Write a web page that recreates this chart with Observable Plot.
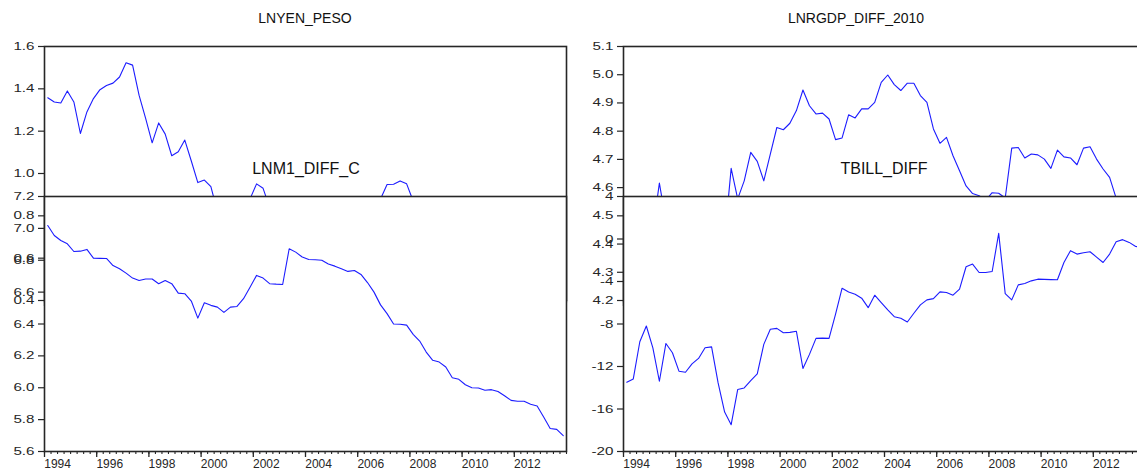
<!DOCTYPE html>
<html><head><meta charset="utf-8">
<script src="https://cdn.jsdelivr.net/npm/d3@7"></script>
<script src="https://cdn.jsdelivr.net/npm/@observablehq/plot@0.6"></script>
<style>
html,body{margin:0;padding:0;background:#fff;}
#wrap{position:relative;width:1137px;height:468px;overflow:hidden;background:#fff;font-family:"Liberation Sans",Arial,sans-serif;}
.panel{position:absolute;top:0;}
.title{position:absolute;white-space:nowrap;transform:translateX(-50%);line-height:1;color:#111;}
</style></head><body>
<div id="wrap"></div>
<script>
// quarterly data, 1994Q1 .. 2013Q4
const startYear = 1994;
const endYear = 2014;
const yearLabels = [1994, 1996, 1998, 2000, 2002, 2004, 2006, 2008, 2010, 2012];

const lnyenPeso = [
  1.358, 1.338, 1.333, 1.390, 1.338, 1.189, 1.291, 1.354, 1.396, 1.416, 1.427, 1.456, 1.523, 1.512, 1.369, 1.260,
  1.145, 1.239, 1.186, 1.084, 1.103, 1.158, 1.059, 0.957, 0.969, 0.938, 0.82, 0.84, 0.83, 0.85, 0.86, 0.88,
  0.951, 0.930, 0.84, 0.82, 0.80, 0.78, 0.80, 0.82, 0.81, 0.79, 0.80, 0.82, 0.83, 0.82, 0.84, 0.85,
  0.83, 0.84, 0.86, 0.88, 0.948, 0.949, 0.965, 0.951, 0.87, 0.83, 0.80, 0.72, 0.66, 0.64, 0.62, 0.65,
  0.63, 0.60, 0.58, 0.57, 0.55, 0.54, 0.53, 0.52, 0.53, 0.55, 0.58, 0.62, 0.68, 0.72, 0.74, 0.75
];
const lnrgdpDiff2010 = [
  4.50, 4.52, 4.49, 4.51, 4.45, 4.616, 4.48, 4.46, 4.43, 4.45, 4.48, 4.50, 4.52, 4.54, 4.45, 4.42,
  4.668, 4.56, 4.624, 4.725, 4.693, 4.624, 4.719, 4.813, 4.805, 4.828, 4.873, 4.946, 4.890, 4.861, 4.864, 4.843,
  4.770, 4.776, 4.858, 4.847, 4.879, 4.879, 4.902, 4.973, 4.999, 4.965, 4.944, 4.970, 4.970, 4.926, 4.902, 4.808,
  4.757, 4.778, 4.713, 4.660, 4.606, 4.579, 4.571, 4.555, 4.582, 4.580, 4.563, 4.740, 4.742, 4.705, 4.719, 4.716,
  4.701, 4.668, 4.733, 4.709, 4.705, 4.681, 4.740, 4.745, 4.701, 4.666, 4.636, 4.563, 4.52, 4.50, 4.49, 4.47
];
const lnm1DiffC = [
  7.018, 6.955, 6.924, 6.903, 6.855, 6.857, 6.868, 6.813, 6.812, 6.811, 6.767, 6.747, 6.719, 6.688, 6.673, 6.682,
  6.682, 6.653, 6.673, 6.653, 6.594, 6.590, 6.544, 6.437, 6.533, 6.517, 6.506, 6.473, 6.506, 6.510, 6.559, 6.631,
  6.705, 6.688, 6.653, 6.650, 6.648, 6.872, 6.851, 6.820, 6.805, 6.803, 6.800, 6.776, 6.763, 6.747, 6.730, 6.736,
  6.711, 6.660, 6.600, 6.520, 6.465, 6.400, 6.398, 6.393, 6.335, 6.293, 6.224, 6.172, 6.161, 6.130, 6.063, 6.053,
  6.019, 6.000, 5.998, 5.984, 5.988, 5.977, 5.950, 5.921, 5.915, 5.915, 5.896, 5.886, 5.816, 5.744, 5.739, 5.700
];
const tbillDiff = [
  -13.48, -13.17, -9.67, -8.19, -10.24, -13.39, -9.83, -10.71, -12.44, -12.54, -11.75, -11.24, -10.24, -10.15, -13.55, -16.29,
  -17.48, -14.17, -14.02, -13.32, -12.70, -9.92, -8.50, -8.41, -8.82, -8.79, -8.69, -12.19, -10.86, -9.35, -9.33, -9.35,
  -7.08, -4.63, -4.98, -5.20, -5.57, -6.46, -5.29, -5.98, -6.68, -7.31, -7.46, -7.81, -6.99, -6.20, -5.73, -5.61,
  -4.98, -5.04, -5.29, -4.72, -2.61, -2.36, -3.15, -3.15, -3.06, 0.53, -5.14, -5.73, -4.32, -4.19, -3.94, -3.78,
  -3.80, -3.82, -3.84, -2.21, -1.10, -1.42, -1.30, -1.20, -1.70, -2.21, -1.42, -0.25, -0.06, -0.32, -0.70, -0.80
];

const yTicksYen = [1.6, 1.4, 1.2, 1.0, 0.8, 0.6, 0.4];
const yTicksGdp = [5.1, 5.0, 4.9, 4.8, 4.7, 4.6, 4.5, 4.4, 4.3, 4.2];
const yTicksM1 = [7.2, 7.0, 6.8, 6.6, 6.4, 6.2, 6.0, 5.8, 5.6];
const yTicksTbill = [4, 0, -4, -8, -12, -16, -20];

const quarterTicks = d3.range(startYear, endYear + 0.001, 0.25);
const f1 = d3.format(".1f");

const LINE = "#1c1cff";
const INK = "#262626";
const wrap = document.getElementById("wrap");

function panel(o) {
  const plotW = 522;
  const data = o.values.map((v, i) => ({t: startYear + (i + 0.5) / 4, v}));
  const svg = Plot.plot({
    width: o.width,
    height: o.height,
    marginLeft: o.marginLeft,
    marginRight: o.width - o.marginLeft - plotW,
    marginTop: o.marginTop,
    marginBottom: o.height - o.marginTop - o.plotH,
    style: {background: "transparent", fontFamily: "'Liberation Sans', Arial, sans-serif", fontSize: "12px", color: INK, overflow: "visible"},
    x: {domain: [startYear, endYear], label: null},
    y: {domain: o.yDomain, label: null},
    marks: [
      Plot.frame({fill: o.cover ? "white" : "none", stroke: "none"}),
      Plot.axisY({ticks: o.yTicks, tickSize: 6, tickPadding: 4, tickFormat: o.yFormat, label: null, strokeWidth: 1.2, fontSize: 11}),
      Plot.axisX({ticks: quarterTicks, tickSize: 3, tickFormat: () => "", label: null, strokeWidth: 1.1}),
      Plot.axisX({ticks: yearLabels, tickSize: 6, tickFormat: () => "", label: null, strokeWidth: 1.3}),
      Plot.axisX({ticks: yearLabels.map(y => y + 0.5), tickSize: 0, tickPadding: 8, tickFormat: d => String(Math.floor(d)), label: null}),
      Plot.lineY(data, {x: "t", y: "v", stroke: LINE, strokeWidth: 1.1}),
      Plot.frame({stroke: INK, strokeWidth: 1.6})
    ]
  });
  // EViews draws the vertical-axis numbers horizontally widened
  svg.querySelectorAll('g[aria-label="y-axis tick label"] text').forEach(t => {
    t.setAttribute("transform", (t.getAttribute("transform") || "") + " scale(1.38,1)");
  });
  svg.classList.add("panel");
  svg.style.left = o.left + "px";
  svg.style.position = "absolute";
  svg.style.top = "0px";
  wrap.appendChild(svg);
}

function title(text, cx, top, size) {
  const d = document.createElement("div");
  d.className = "title";
  d.textContent = text;
  d.style.left = cx + "px";
  d.style.top = top + "px";
  d.style.fontSize = size + "px";
  wrap.appendChild(d);
}

// top panels
panel({values: lnyenPeso, left: 0, width: 570, marginLeft: 44, marginTop: 46, plotH: 254, height: 330,
  yDomain: [0.4, 1.6], yTicks: yTicksYen, yFormat: f1, cover: false});
panel({values: lnrgdpDiff2010, left: 570, width: 580, marginLeft: 53, marginTop: 46, plotH: 254, height: 330,
  yDomain: [4.2, 5.1], yTicks: yTicksGdp, yFormat: f1, cover: false});
// bottom panels (drawn over the top ones)
panel({values: lnm1DiffC, left: 0, width: 570, marginLeft: 44, marginTop: 196, plotH: 255, height: 468,
  yDomain: [5.6, 7.2], yTicks: yTicksM1, yFormat: f1, cover: true});
panel({values: tbillDiff, left: 570, width: 580, marginLeft: 53, marginTop: 196, plotH: 255, height: 468,
  yDomain: [-20, 4], yTicks: yTicksTbill, yFormat: d => String(d), cover: true});

title("LNYEN_PESO", 305, 11, 14);
title("LNRGDP_DIFF_2010", 856, 11, 14);
title("LNM1_DIFF_C", 306, 161, 16);
title("TBILL_DIFF", 884, 161, 16);
</script>
</body></html>
